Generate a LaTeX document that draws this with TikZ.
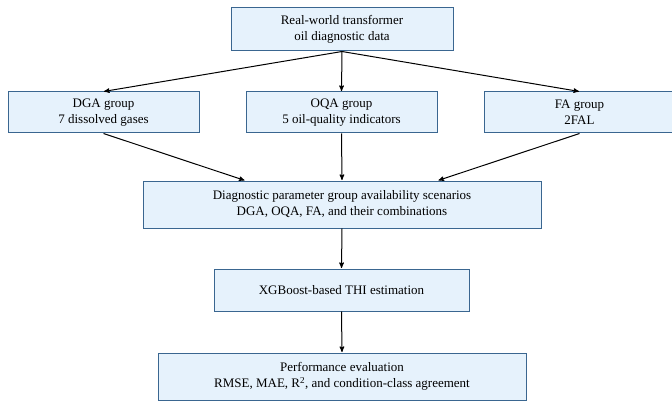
\documentclass[tikz,border=0pt]{standalone}
\usepackage{fontspec}
\setmainfont{Liberation Serif}
\usetikzlibrary{arrows}
\definecolor{boxfill}{HTML}{E6F2FC}
\definecolor{boxline}{HTML}{3A6690}
\begin{document}
\begin{tikzpicture}[x=1pt,y=-1pt,>=stealth',thick,
    box/.style={draw=boxline,fill=boxfill,line width=1pt,align=center,inner sep=0pt,font=\fontsize{13}{16}\selectfont},
    flow/.style={->,line width=1pt,shorten >=0.5pt}]
		 \useasboundingbox (0,0) rectangle (672,401);
		 \node[box,minimum width=222pt,minimum height=43pt]  (data)   at (342,29.5)   {Real-world transformer\\oil diagnostic data};
		 \node[box,minimum width=191pt,minimum height=41pt]  (dga)    at (103.5,112.5) {DGA group\\7 dissolved gases};
		 \node[box,minimum width=191pt,minimum height=41pt]  (oqa)    at (341.5,112.5) {OQA group\\5 oil-quality indicators};
		 \node[box,minimum width=191pt,minimum height=41pt]  (fa)     at (579.5,112.5) {FA group\\2FAL};
		 \node[box,minimum width=398pt,minimum height=47pt]  (scen)   at (342,204.5)  {Diagnostic parameter group availability scenarios\\DGA, OQA, FA, and their combinations};
		 \node[box,minimum width=255pt,minimum height=42pt]  (xgb)    at (341.5,290)  {XGBoost-based THI estimation};
		 \node[box,minimum width=368pt,minimum height=47pt]  (perf)   at (342,376.5)  {Performance evaluation\\RMSE, MAE, R\textsuperscript{2}, and condition-class agreement};

		 \draw[flow] (data.south) -- (dga.north);
		 \draw[flow] (data.south) -- (oqa.north);
		 \draw[flow] (data.south) -- (fa.north);
		 \draw[flow] (dga.south)  -- ([xshift=-97pt]scen.north);
		 \draw[flow] (oqa.south)  -- (scen.north);
		 \draw[flow] (fa.south)   -- ([xshift=96pt]scen.north);
		 \draw[flow] (scen.south) -- (xgb.north);
		 \draw[flow] (xgb.south)  -- (perf.north);
\end{tikzpicture}
\end{document}
